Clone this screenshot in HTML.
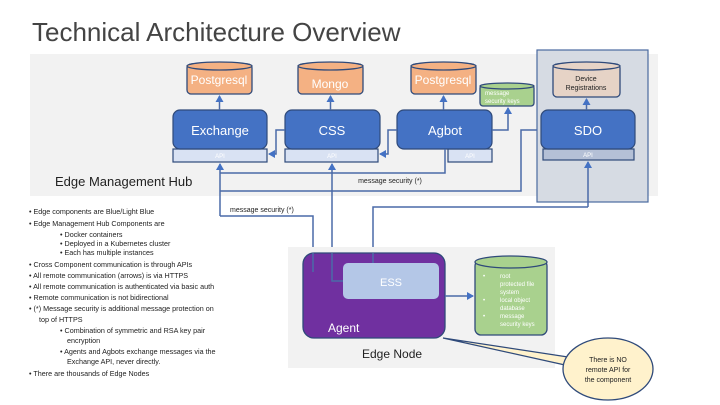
<!DOCTYPE html>
<html><head><meta charset="utf-8"><style>
html,body{margin:0;padding:0;background:#fff;}
svg{display:block;font-family:"Liberation Sans",sans-serif;}
</style></head><body>
<svg width="720" height="405" viewBox="0 0 720 405" xmlns="http://www.w3.org/2000/svg">
<defs>
<marker id="ar" markerWidth="8" markerHeight="8" refX="6" refY="4" orient="auto" markerUnits="userSpaceOnUse"><path d="M0,0 L7,4 L0,8 z" fill="#4472c4"/></marker>
</defs>
<text x="32" y="41" font-size="26" fill="#444">Technical Architecture Overview</text>
<rect x="30" y="54" width="628" height="142" fill="#f2f2f2"/>
<rect x="537" y="50" width="111" height="152" fill="#d6dbe3" stroke="#4a6aa0" stroke-width="1.2"/>
<text x="55" y="186" font-size="13" fill="#222">Edge Management Hub</text>

<g stroke="#2f4a7a" stroke-width="1.3">
<rect x="187" y="64" width="65" height="30" rx="4" fill="#f4b183"/><ellipse cx="219.5" cy="66" rx="32.5" ry="4" fill="#f4b183"/>
<rect x="298" y="64" width="65" height="30" rx="4" fill="#f4b183"/><ellipse cx="330.5" cy="66" rx="32.5" ry="4" fill="#f4b183"/>
<rect x="411" y="64" width="65" height="30" rx="4" fill="#f4b183"/><ellipse cx="443.5" cy="66" rx="32.5" ry="4" fill="#f4b183"/>
<rect x="480" y="85" width="54" height="21" rx="3" fill="#a9d18e"/><ellipse cx="507" cy="86" rx="27" ry="3" fill="#a9d18e"/>
<rect x="553" y="64" width="67" height="33" rx="4" fill="#e6d3c6"/><ellipse cx="586.5" cy="66" rx="33.5" ry="4" fill="#e6d3c6"/>
</g>
<g fill="#fff" font-size="12" text-anchor="middle">
<text x="219" y="84">Postgresql</text><text x="330" y="88">Mongo</text><text x="443" y="84">Postgresql</text>
</g>
<text x="485" y="95" font-size="6" fill="#fff">message</text><text x="485" y="103" font-size="6" fill="#fff">security keys</text>
<text x="586" y="81" font-size="7" text-anchor="middle" fill="#222">Device</text><text x="586" y="90" font-size="7" text-anchor="middle" fill="#222">Registrations</text>

<g stroke="#2f4a7a" stroke-width="1.2">
<rect x="173" y="149" width="94" height="13" fill="#d9e2f3"/>
<rect x="285" y="149" width="93" height="13" fill="#d9e2f3"/>
<rect x="448" y="149" width="44" height="13" fill="#d9e2f3"/>
<rect x="543" y="149" width="91" height="11" fill="#b4c0d6"/>
<rect x="173" y="110" width="94" height="39" rx="7" fill="#4472c4"/>
<rect x="285" y="110" width="95" height="39" rx="7" fill="#4472c4"/>
<rect x="397" y="110" width="95" height="39" rx="7" fill="#4472c4"/>
<rect x="541" y="110" width="94" height="39" rx="7" fill="#4472c4"/>
</g>
<g fill="#fff" font-size="13" text-anchor="middle">
<text x="220" y="135">Exchange</text><text x="332" y="135">CSS</text><text x="445" y="135">Agbot</text><text x="588" y="135">SDO</text>
</g>
<g fill="#fff" font-size="6" text-anchor="middle"><text x="220" y="158">API</text><text x="332" y="158">API</text><text x="470" y="158">API</text><text x="588" y="157">API</text></g>

<g stroke="#4a6aa8" stroke-width="1.5" fill="none">
<path d="M219.5 110 V96" marker-end="url(#ar)"/>
<path d="M330.5 110 V96" marker-end="url(#ar)"/>
<path d="M443.5 110 V96" marker-end="url(#ar)"/>
<path d="M586.5 110 V99" marker-end="url(#ar)"/>
<path d="M285 130 H276 V154 H269" marker-end="url(#ar)"/>
<path d="M397 130 H388 V154 H380" marker-end="url(#ar)"/>
<path d="M492 130 H508 V108" marker-end="url(#ar)"/>
<path d="M537 130 H521 V191 H220"/>
<path d="M445 149 V173 H220"/>
<path d="M220 216 V164" marker-end="url(#ar)"/>
<path d="M220 216 H313 V253"/>
<path d="M332 253 V164" marker-end="url(#ar)"/>
<path d="M588 207 V162" marker-end="url(#ar)"/>
<path d="M588 207 H373 V253"/>
</g>
<text x="390" y="183" font-size="7" text-anchor="middle" fill="#222">message security (*)</text>
<text x="230" y="212" font-size="7" fill="#222">message security (*)</text>

<rect x="288" y="247" width="267" height="121" fill="#f2f2f2"/>
<rect x="303" y="253" width="142" height="85" rx="11" fill="#7030a0" stroke="#2f4a7a" stroke-width="1.3"/>
<path d="M313 253 V272 M332 253 V281 H343 M373 253 V263" stroke="#4a6aa8" stroke-width="1.5" fill="none"/>
<rect x="343" y="263" width="96" height="36" rx="5" fill="#b4c7e7"/>
<text x="391" y="286" font-size="11" text-anchor="middle" fill="#fff">ESS</text>
<text x="328" y="332" font-size="12" fill="#fff">Agent</text>
<path d="M445 296 H473" stroke="#4a6aa8" stroke-width="1.5" marker-end="url(#ar)"/>
<g stroke="#2f4a7a" stroke-width="1.3">
<rect x="475" y="260" width="72" height="75" rx="6" fill="#a9d18e"/><ellipse cx="511" cy="262" rx="36" ry="6" fill="#a9d18e"/>
</g>
<g font-size="6" fill="#fff">
<text x="483" y="278">•</text><text x="500" y="278">root</text><text x="500" y="286">protected file</text><text x="500" y="294">system</text>
<text x="483" y="302">•</text><text x="500" y="302">local object</text><text x="500" y="310">database</text>
<text x="483" y="318">•</text><text x="500" y="318">message</text><text x="500" y="326">security keys</text>
</g>
<text x="362" y="358" font-size="12" fill="#222">Edge Node</text>

<path d="M443 338 L568 357 L565 365 Z" fill="#fff2cc" stroke="#2f4a7a" stroke-width="1.2"/>
<ellipse cx="608" cy="369" rx="45" ry="31" fill="#fff2cc" stroke="#2f4a7a" stroke-width="1.3"/>
<g font-size="7" text-anchor="middle" fill="#222"><text x="608" y="362">There is NO</text><text x="608" y="372">remote API for</text><text x="608" y="382">the component</text></g>

<g font-size="7.2" fill="#222">
<text x="29" y="214">•  Edge components are Blue/Light Blue</text>
<text x="29" y="226">•  Edge Management Hub Components are</text>
<text x="60" y="237">•  Docker containers</text>
<text x="60" y="246">•  Deployed in a Kubernetes cluster</text>
<text x="60" y="255">•  Each has multiple instances</text>
<text x="29" y="267">•  Cross Component communication is through APIs</text>
<text x="29" y="278">•  All remote communication (arrows) is via HTTPS</text>
<text x="29" y="289">•  All remote communication is authenticated via basic auth</text>
<text x="29" y="300">•  Remote communication is not bidirectional</text>
<text x="29" y="311">•  (*) Message security is additional message protection on</text>
<text x="39" y="322">top of HTTPS</text>
<text x="60" y="333">•  Combination of symmetric and RSA key pair</text>
<text x="67" y="343">encryption</text>
<text x="60" y="354">•  Agents and Agbots exchange messages via the</text>
<text x="67" y="364">Exchange API, never directly.</text>
<text x="29" y="376">•  There are thousands of Edge Nodes</text>
</g>
</svg>
</body></html>
